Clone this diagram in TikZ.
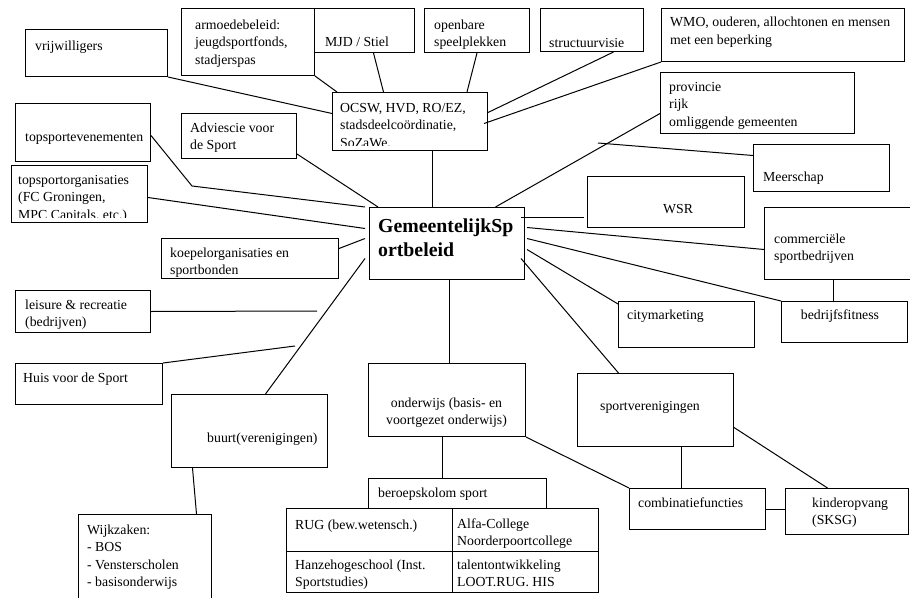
\documentclass[tikz,border=0pt]{standalone}
\usepackage{fontspec}
\setmainfont{Liberation Serif}
\begin{document}
\begin{tikzpicture}[x=1pt,y=-1pt,
  box/.style 2 args={draw, line width=1pt, inner sep=0pt, anchor=north west, minimum width=#1pt, minimum height=#2pt},
  txt/.style={anchor=base west, inner sep=0pt, align=left, font=\fontsize{13.8}{17.5}\selectfont},
  ctxt/.style={anchor=base, inner sep=0pt, align=center, font=\fontsize{13.8}{17.5}\selectfont},
  btxt/.style={anchor=base west, inner sep=0pt, align=left, font=\fontsize{19.8}{24.5}\selectfont\bfseries},
  link/.style={line width=1pt}]
\clip (0,0) rectangle (910,597);
\fill[white] (0,0) rectangle (910,597);
% boxes
\node[box={142}{47}] (vrij) at (25,29) {};
\node[box={133}{67}] (armoede) at (181,8) {};
\node[box={100}{44}] (mjd) at (314,8) {};
\node[box={105}{44}] (openbare) at (424,8) {};
\node[box={103}{43}] (struct) at (540,8) {};
\node[box={243}{53}] (wmo) at (661,8) {};
\node[box={155}{58}] (ocsw) at (332,92) {};
\node[box={155}{72}] (gem) at (369,207) {};
\node[box={115}{45}] (advies) at (181,113) {};
\node[box={135}{58}] (topev) at (15,103) {};
\node[box={136}{57}] (toporg) at (11,165) {};
\node[box={177}{40}] (koepel) at (161,238) {};
\node[box={135}{42}] (leisure) at (15,290) {};
\node[box={147}{41}] (huis) at (15,363) {};
\node[box={156}{73}] (buurt) at (171,394) {};
\node[box={133}{96}] (wijk) at (78,514) {};
\node[box={157}{73}] (onderwijs) at (368,363) {};
\node[box={178}{30}] (beroeps) at (368,478) {};
\node[box={166}{43}] (rug) at (286,508) {};
\node[box={146}{43}] (alfa) at (452,508) {};
\node[box={166}{41}] (hanze) at (286,551) {};
\node[box={146}{41}] (talent) at (452,551) {};
\node[box={194}{61}] (provincie) at (660,72) {};
\node[box={136}{47}] (meerschap) at (753,144) {};
\node[box={157}{51}] (wsr) at (587,176) {};
\node[box={151}{72}] (commerc) at (764,207) {};
\node[box={126}{41}] (bf) at (781,301) {};
\node[box={136}{46}] (cm) at (618,301) {};
\node[box={156}{73}] (sportver) at (577,373) {};
\node[box={136}{41}] (combi) at (629,488) {};
\node[box={123}{46}] (kinder) at (785,488) {};
% free ends and bends
\coordinate (bendA) at (192,186);
\coordinate (leisureEnd) at (317,311);
\coordinate (huisEnd) at (295,346);
\coordinate (meerEnd) at (598,143);
% texts (base = baseline of the last line)
\node[txt] (t-vrij) at (35,50) {vrijwilligers};
\node[txt] (t-armoede) at (195,64) {armoedebeleid:\\jeugdsportfonds,\\stadjerspas};
\node[txt] (t-mjd) at (325,46) {MJD / Stiel};
\begin{scope}
\clip (424,8) rectangle (529,48.5);
\node[txt] (t-openbare) at (434,46.5) {openbare\\speelplekken};
\end{scope}
\node[txt] (t-struct) at (549,47) {structuurvisie};
\node[txt] (t-wmo) at (670,44.5) {WMO, ouderen, allochtonen en mensen\\met een beperking};
\begin{scope}
\clip (332,92) rectangle (487,145);
\node[txt] (t-ocsw) at (340,147) {OCSW, HVD, RO/EZ,\\stadsdeelcoördinatie,\\SoZaWe.};
\end{scope}
\node[btxt] (t-gem) at (378,256.5) {GemeentelijkSp\\ortbeleid};
\node[txt] (t-advies) at (190,149.5) {Adviescie voor\\de Sport};
\node[txt] (t-topev) at (25,141) {topsportevenementen};
\begin{scope}
\clip (11,165) rectangle (147,217);
\node[txt] (t-toporg) at (18,219) {topsportorganisaties\\(FC Groningen,\\MPC Capitals, etc.)};
\end{scope}
\begin{scope}
\clip (161,238) rectangle (338,276);
\node[txt] (t-koepel) at (170,274.5) {koepelorganisaties en\\sportbonden};
\end{scope}
\begin{scope}
\clip (15,290) rectangle (150,329);
\node[txt] (t-leisure) at (25,326.5) {leisure \& recreatie\\(bedrijven)};
\end{scope}
\node[txt] (t-huis) at (23,382) {Huis voor de Sport};
\node[txt] (t-buurt) at (207,442) {buurt(verenigingen)};
\node[txt] (t-wijk) at (87,586.5) {Wijkzaken:\\- BOS\\- Vensterscholen\\- basisonderwijs};
\node[ctxt] (t-onderwijs) at (446.5,424.5) {onderwijs (basis- en\\voortgezet onderwijs)};
\node[txt] (t-beroeps) at (378,497) {beroepskolom sport};
\node[txt] (t-rug) at (295,529) {RUG (bew.wetensch.)};
\begin{scope}
\clip (286,551) rectangle (452,590);
\node[txt] (t-hanze) at (295,586.5) {Hanzehogeschool (Inst.\\Sportstudies)};
\end{scope}
\begin{scope}
\clip (452,508) rectangle (598,548);
\node[txt] (t-alfa) at (457,545.5) {Alfa-College\\Noorderpoortcollege};
\end{scope}
\begin{scope}
\clip (452,551) rectangle (598,590);
\node[txt] (t-talent) at (457,586.5) {talentontwikkeling\\LOOT.RUG. HIS};
\end{scope}
\node[txt] (t-provincie) at (669,126) {provincie\\rijk\\omliggende gemeenten};
\node[txt] (t-meerschap) at (763,181) {Meerschap};
\node[ctxt] (t-wsr) at (678,213) {WSR};
\node[txt] (t-commerc) at (774,260.5) {commerciële\\sportbedrijven};
\node[ctxt] (t-bf) at (840,319) {bedrijfsfitness};
\node[txt] (t-cm) at (627,319) {citymarketing};
\node[txt] (t-sportver) at (600,410) {sportverenigingen};
\node[txt] (t-combi) at (638,507) {combinatiefuncties};
\node[txt] (t-kinder) at (812,524.5) {kinderopvang\\(SKSG)};
% connectors
\draw[link] (vrij.south east) -- ([yshift=8pt]ocsw.west);
\draw[link] (armoede.south east) -- ([xshift=5pt]ocsw.north west);
\draw[link] ([xshift=9pt]mjd.south) -- ([xshift=-26.5pt]ocsw.north);
\draw[link] (openbare.south) -- ([xshift=57pt]ocsw.north);
\draw[link] ([xshift=21.5pt]struct.south) -- ([yshift=9pt]ocsw.east);
\draw[link] (wmo.south west) -- ([xshift=-4pt,yshift=-2pt]ocsw.east);
\draw[link] ([xshift=22.5pt]ocsw.south) -- ([xshift=-14.5pt]gem.north);
\draw[link] ([yshift=5pt]advies.south east) -- ([xshift=9pt]gem.north west);
\draw[link] ([yshift=-3pt]topev.east) -- (bendA) -- ([xshift=-4pt]gem.north west);
\draw[link] ([yshift=-3.5pt]toporg.east) -- ([xshift=-4pt,yshift=15pt]gem.west);
\draw[link] ([yshift=10pt]koepel.east) -- ([xshift=-4pt,yshift=5pt]gem.west);
\draw[link] (leisure.east) -- (leisureEnd);
\draw[link] (huis.north east) -- (huisEnd);
\draw[link] ([xshift=-4pt,yshift=-15pt]gem.west) -- ([xshift=16pt]buurt.north);
\draw[link] ([xshift=-57pt]buurt.south) -- ([xshift=51.5pt]wijk.north);
\draw[link] ([xshift=2pt]gem.south) -- ([xshift=2pt]onderwijs.north);
\draw[link] ([xshift=-4.5pt]onderwijs.south) -- ([xshift=-15pt]beroeps.north);
\draw[link] (onderwijs.south east) -- (combi.north west);
\draw[link] ([yshift=-10.5pt]provincie.west) -- ([xshift=48.5pt]gem.north);
\draw[link] ([yshift=12.5pt]meerschap.west) -- (meerEnd);
\draw[link] ([xshift=-4pt,yshift=26pt]gem.east) -- ([xshift=-3pt,yshift=-15.5pt]wsr.west);
\draw[link] ([xshift=2pt,yshift=16pt]gem.east) -- ([yshift=-6pt]commerc.west);
\draw[link] ([xshift=2pt,yshift=5pt]gem.east) -- (bf.north west);
\draw[link] ([xshift=2pt,yshift=-6pt]gem.east) -- ([yshift=-3pt]cm.north west);
\draw[link] ([xshift=-4pt,yshift=-15pt]gem.east) -- ([xshift=-37pt]sportver.north);
\draw[link] ([xshift=-6.5pt]commerc.south) -- ([xshift=-11pt]bf.north);
\draw[link] ([xshift=26pt]sportver.south) -- ([xshift=-16pt]combi.north);
\draw[link] ([yshift=-17.5pt]sportver.east) -- ([xshift=-19.5pt]kinder.north);
\draw[link] (combi.east) -- (combi.east -| kinder.west);
\end{tikzpicture}
\end{document}
